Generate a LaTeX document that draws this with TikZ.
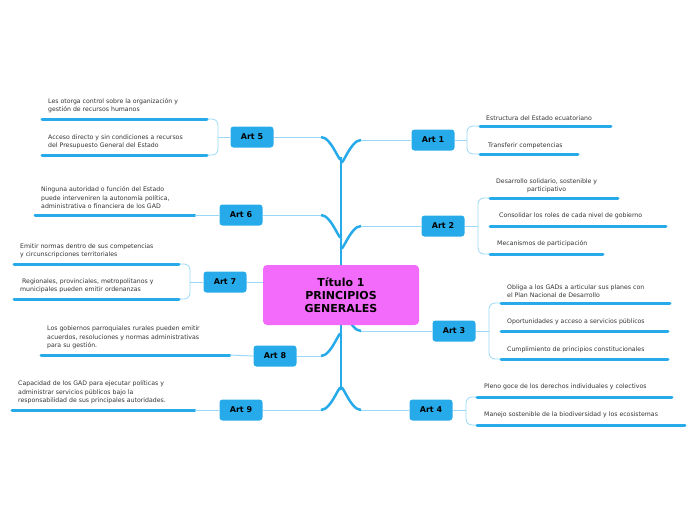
\documentclass[tikz,border=0pt]{standalone}
\usepackage{fontspec}
\setmainfont{DejaVu Sans}
\begin{document}
\begin{tikzpicture}[x=1pt,y=-1pt,
  art/.style={fill=artblue,rounded corners=3pt,minimum width=43pt,minimum height=21pt,font=\fontsize{8}{9}\selectfont\bfseries,text=black,inner sep=0pt},
  leaf/.style={anchor=south west,font=\fontsize{6.2}{8.5}\selectfont,text=txt,align=left,inner sep=0pt},
  bar/.style={draw=artblue,line width=3pt,line cap=round},
  conn/.style={draw=lightb,line width=1pt},
  brk/.style={draw=lightb,line width=0.8pt,rounded corners=6pt},
  trunk/.style={draw=artblue,line width=2.5pt}]
\definecolor{artblue}{HTML}{27AAE9}
\definecolor{lightb}{HTML}{9AD8F7}
\definecolor{txt}{HTML}{333333}
\definecolor{pinkc}{HTML}{F36BFA}
\useasboundingbox (0,0) rectangle (697,520);
% trunk
\draw[trunk] (341,160) -- (341,390);
\draw[trunk] (341,160) to[out=-90,in=180] (361,140);
\draw[trunk] (341,246) to[out=-90,in=180] (361,226);
\draw[trunk] (341,311) to[out=90,in=180] (361,331);
\draw[trunk] (341,390) to[out=90,in=180] (361,410);
\draw[trunk] (341,157) to[out=-90,in=0] (321,137);
\draw[trunk] (341,235) to[out=-90,in=0] (321,215);
\draw[trunk] (341,336) to[out=90,in=0] (321,356);
\draw[trunk] (341,390) to[out=90,in=0] (321,410);
% central
\node[fill=pinkc,rounded corners=4pt,minimum width=156pt,minimum height=60pt,align=center,font=\fontsize{11}{13}\selectfont\bfseries,inner sep=0pt] (c) at (341,295) {Título 1\\PRINCIPIOS\\ GENERALES};
% arts
\node[art] (a1) at (433,140) {Art 1};
\node[art] (a2) at (443,226) {Art 2};
\node[art] (a3) at (454,331) {Art 3};
\node[art] (a4) at (431,410) {Art 4};
\node[art] (a5) at (252,137) {Art 5};
\node[art] (a6) at (241,215) {Art 6};
\node[art] (a7) at (225,282) {Art 7};
\node[art] (a8) at (275,356) {Art 8};
\node[art] (a9) at (241,410) {Art 9};
\coordinate (t1) at (361,140); \coordinate (t2) at (361,226); \coordinate (t3) at (361,331); \coordinate (t4) at (361,410);
\coordinate (t5) at (321,137); \coordinate (t6) at (321,215); \coordinate (t8) at (321,356); \coordinate (t9) at (321,410);
\draw[conn] (t1) -- (a1.west); \draw[conn] (t2) -- (a2.west); \draw[conn] (t3) -- (a3.west); \draw[conn] (t4) -- (a4.west);
\draw[conn] (t5) -- (a5.east); \draw[conn] (t6) -- (a6.east); \draw[conn] (t8) -- (a8.east); \draw[conn] (t9) -- (a9.east);
\draw[conn] (c.west |- a7) -- (a7.east);
% Art 1
\draw[conn] (a1.east) -- (467,140);
\draw[brk] (480,126) -- (467,126) -- (467,154) -- (480,154);
\draw[bar] (480,126) -- (611,126); \draw[bar] (480,154) -- (578,154);
\node[leaf] (l11) at (486,121) {Estructura del Estado ecuatoriano};
\node[leaf] (l12) at (488,149) {Transferir competencias};
% Art 2
\draw[conn] (a2.east) -- (478,226);
\draw[brk] (490,198) -- (478,198) -- (478,254) -- (490,254);
\draw[bar] (490,198) -- (618,198); \draw[bar] (490,226) -- (666,226); \draw[bar] (490,254) -- (603,254);
\node[leaf,align=center] (l21) at (496,193) {Desarrollo solidario, sostenible y\\participativo};
\node[leaf] (l22) at (499,219) {Consolidar los roles de cada nivel de gobierno};
\node[leaf] (l23) at (497,247) {Mecanismos de participación};
% Art 3
\draw[conn] (a3.east) -- (489,331);
\draw[brk] (501,303) -- (489,303) -- (489,359) -- (501,359);
\draw[bar] (501,303) -- (670,303); \draw[bar] (501,331) -- (668,331); \draw[bar] (501,359) -- (668,359);
\node[leaf] (l31) at (507,298) {Obliga a los GADs a articular sus planes con\\el Plan Nacional de Desarrollo};
\node[leaf] (l32) at (507,325) {Oportunidades y acceso a servicios públicos};
\node[leaf] (l33) at (507,353) {Cumplimiento de principios constitucionales};
% Art 4
\draw[conn] (a4.east) -- (466,410);
\draw[brk] (477,397) -- (466,397) -- (466,425) -- (477,425);
\draw[bar] (477,397) -- (672,397); \draw[bar] (477,425) -- (685,425);
\node[leaf] (l41) at (484,390) {Pleno goce de los derechos individuales y colectivos};
\node[leaf] (l42) at (484,418) {Manejo sostenible de la biodiversidad y los ecosistemas};
% Art 5
\draw[conn] (a5.west) -- (218,137);
\draw[brk] (207,119) -- (218,119) -- (218,155) -- (207,155);
\draw[bar] (42,119) -- (207,119); \draw[bar] (42,155) -- (207,155);
\node[leaf] (l51) at (48,113) {Les otorga control sobre la organización y\\gestión de recursos humanos};
\node[leaf] (l52) at (48,149) {Acceso directo y sin condiciones a recursos\\del Presupuesto General del Estado};
% Art 6
\draw[bar] (35,215) -- (195,215); \draw[conn] (195,215) -- (a6.west);
\node[leaf] (l61) at (41,209) {Ninguna autoridad o función del Estado\\puede interveniren la autonomía política,\\administrativa o financiera de los GAD};
% Art 7
\draw[conn] (a7.west) -- (190,282);
\draw[brk] (179,264) -- (190,264) -- (190,299) -- (179,299);
\draw[bar] (14,264) -- (179,264); \draw[bar] (14,299) -- (179,299);
\node[leaf] (l71) at (20,258) {Emitir normas dentro de sus competencias\\y circunscripciones territoriales};
\node[leaf] (l72) at (20,293) {\ Regionales, provinciales, metropolitanos y\\municipales pueden emitir ordenanzas};
% Art 8
\draw[bar] (41,355) -- (230,355); \draw[conn] (230,355) -- (a8.west);
\node[leaf] (l81) at (47,349) {Los gobiernos parroquiales rurales pueden emitir\\acuerdos, resoluciones y normas administrativas\\para su gestión.};
% Art 9
\draw[bar] (12,410) -- (195,410); \draw[conn] (195,410) -- (a9.west);
\node[leaf] (l91) at (18,404) {Capacidad de los GAD para ejecutar políticas y\\administrar servicios públicos bajo la\\responsabilidad de sus principales autoridades.};
\end{tikzpicture}
\end{document}
